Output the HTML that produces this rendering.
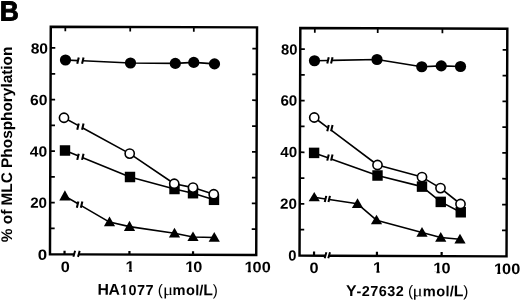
<!DOCTYPE html>
<html><head><meta charset="utf-8"><title>B</title>
<style>html,body{margin:0;padding:0;background:#fff}body{width:520px;height:301px;overflow:hidden}svg{display:block;filter:blur(0.3px)}text{font-family:"Liberation Sans",sans-serif;font-weight:bold;fill:#000;font-kerning:none}.mu{font-family:"Liberation Serif",serif;font-weight:normal}.p{font-weight:normal}</style>
</head><body>
<svg width="520" height="301" viewBox="0 0 520 301">
<rect width="520" height="301" fill="#fff"/>
<g transform="rotate(0.2 260 150)">
<path d="M73.6 255H50.35V27.4H256.6V255H80.2" fill="none" stroke="#000" stroke-width="2.45" stroke-linecap="square"/>
<path d="M75.45 251.5L73.75 257.5M80.05 251.5L78.35 257.5" fill="none" stroke="#000" stroke-width="1.95"/>
<path d="M50.35 229.21h4.6M256.6 229.21h-4.6M50.35 203.43h4.6M256.6 203.43h-4.6M50.35 177.64h4.6M256.6 177.64h-4.6M50.35 151.85h4.6M256.6 151.85h-4.6M50.35 126.06h4.6M256.6 126.06h-4.6M50.35 100.27h4.6M256.6 100.27h-4.6M50.35 74.49h4.6M256.6 74.49h-4.6M50.35 48.7h4.6M256.6 48.7h-4.6M64.9 27.4v4.6M129.8 27.4v4.6M193.4 27.4v4.6" fill="none" stroke="#000" stroke-width="1.75"/>
<path d="M64.9 255v-3.6M129.8 255v-3.6M193.4 255v-3.6" fill="none" stroke="#000" stroke-width="2.2"/>
<path d="M324.9 255.5H299.9V27.9H506.9V255.5H330.5" fill="none" stroke="#000" stroke-width="2.45" stroke-linecap="square"/>
<path d="M326.75 252L325.05 258M330.35 252L328.65 258" fill="none" stroke="#000" stroke-width="1.95"/>
<path d="M299.9 229.46h4.6M506.9 229.46h-4.6M299.9 203.68h4.6M506.9 203.68h-4.6M299.9 177.89h4.6M506.9 177.89h-4.6M299.9 152.1h4.6M506.9 152.1h-4.6M299.9 126.31h4.6M506.9 126.31h-4.6M299.9 100.52h4.6M506.9 100.52h-4.6M299.9 74.74h4.6M506.9 74.74h-4.6M299.9 48.95h4.6M506.9 48.95h-4.6M314.4 27.9v4.6M377.3 27.9v4.6M442 27.9v4.6" fill="none" stroke="#000" stroke-width="1.75"/>
<path d="M314.4 255.5v-4.2M377.3 255.5v-4.2M442 255.5v-4.2" fill="none" stroke="#000" stroke-width="2.2"/>
<text x="-0.82" y="21.46" font-size="27.6" textLength="19.06" lengthAdjust="spacingAndGlyphs" stroke="#000" stroke-width="0.9">B</text>
<text transform="translate(12.32,243.07) rotate(-90.17)" font-size="15.38">% of MLC Phosphorylation</text>
<text x="30.37" y="54.2" font-size="14.7" textLength="17.33" lengthAdjust="spacingAndGlyphs">80</text>
<text x="29.77" y="105.7" font-size="14.7" textLength="17.42" lengthAdjust="spacingAndGlyphs">60</text>
<text x="29.89" y="157.2" font-size="14.7" textLength="17.38" lengthAdjust="spacingAndGlyphs">40</text>
<text x="30.38" y="208.5" font-size="14.7" textLength="16.85" lengthAdjust="spacingAndGlyphs">20</text>
<text x="38.12" y="260.48" font-size="14.7" textLength="9.36" lengthAdjust="spacingAndGlyphs">0</text>
<text x="280.7" y="54.33" font-size="14.7" textLength="16.37" lengthAdjust="spacingAndGlyphs">80</text>
<text x="280.29" y="105.43" font-size="14.7" textLength="16.88" lengthAdjust="spacingAndGlyphs">60</text>
<text x="280.3" y="157.03" font-size="14.7" textLength="16.85" lengthAdjust="spacingAndGlyphs">40</text>
<text x="280.18" y="208.73" font-size="14.7" textLength="16.85" lengthAdjust="spacingAndGlyphs">20</text>
<text x="288.7" y="260.3" font-size="14.7" textLength="8.19" lengthAdjust="spacingAndGlyphs">0</text>
<text transform="translate(61.17,272.59) scale(1.07,1)" x="0" y="0" font-size="15.2">0</text>
<clipPath id="k1"><path d="M-600 -600H900V-2H-600ZM-600 -600H0.56V600H-600ZM8.43 -600H900V600H8.43ZM3.1 -3H6.08V2H3.1Z"/></clipPath>
<text transform="translate(125.96,272.17) scale(1.07,1)" x="0" y="0" font-size="15.2" clip-path="url(#k1)">1</text>
<clipPath id="k2"><path d="M-600 -600H900V-2H-600ZM-600 -600H0.56V600H-600ZM8.43 -600H900V600H8.43ZM3.1 -3H6.08V2H3.1Z"/></clipPath>
<text transform="translate(185.66,272.16) scale(1.07,1)" x="0 7.48" y="0" font-size="15.2" clip-path="url(#k2)">10</text>
<clipPath id="k3"><path d="M-600 -600H900V-2H-600ZM-600 -600H0.56V600H-600ZM8.43 -600H900V600H8.43ZM3.1 -3H6.08V2H3.1Z"/></clipPath>
<text transform="translate(244.86,272.35) scale(1.07,1)" x="0 7.48 16.13" y="0" font-size="15.2" clip-path="url(#k3)">100</text>
<text transform="translate(309.82,272.73) scale(1.07,1)" x="0" y="0" font-size="15.2">0</text>
<clipPath id="k4"><path d="M-600 -600H900V-2H-600ZM-600 -600H0.56V600H-600ZM8.43 -600H900V600H8.43ZM3.1 -3H6.08V2H3.1Z"/></clipPath>
<text transform="translate(373.51,272.3) scale(1.07,1)" x="0" y="0" font-size="15.2" clip-path="url(#k4)">1</text>
<clipPath id="k5"><path d="M-600 -600H900V-2H-600ZM-600 -600H0.56V600H-600ZM8.43 -600H900V600H8.43ZM3.1 -3H6.08V2H3.1Z"/></clipPath>
<text transform="translate(433.66,272.69) scale(1.07,1)" x="0 7.77" y="0" font-size="15.2" clip-path="url(#k5)">10</text>
<clipPath id="k6"><path d="M-600 -600H900V-2H-600ZM-600 -600H0.56V600H-600ZM8.43 -600H900V600H8.43ZM3.1 -3H6.08V2H3.1Z"/></clipPath>
<text transform="translate(494.36,273.08) scale(1.07,1)" x="0 7.63 16.13" y="0" font-size="15.2" clip-path="url(#k6)">100</text>
<clipPath id="k7"><path d="M-600 -600H900V293.45H-600ZM-600 -600H121.06V600H-600ZM128.56 -600H900V600H128.56ZM123.47 292.45H126.34V297.37H123.47Z"/></clipPath>
<text y="295.37" font-size="15.21" clip-path="url(#k7)"><tspan x="98.13 109.12" font-size="15.8">HA</tspan><tspan x="120.55 129 137.46 145.92" font-size="14.4">1077</tspan><tspan x="154.15" font-size="15.21"> </tspan><tspan class="p" x="158.32" font-size="15.21">(</tspan><tspan class="mu" x="163.48" font-size="16.3" textLength="10.1" lengthAdjust="spacingAndGlyphs">μ</tspan><tspan x="173.02 186.46 195.65 199.87" font-size="14.6">mol/</tspan><tspan x="203.82" font-size="15.8">L</tspan><tspan class="p" x="213.36" font-size="15.21">)</tspan></text>
<text y="295.6" font-size="15.27"><tspan x="346.49" font-size="15.8">Y</tspan><tspan x="357 362.18 370.67 379.17 387.65 396.15" font-size="14.4">-27632</tspan><tspan x="404.4" font-size="15.27"> </tspan><tspan class="p" x="408.59" font-size="15.27">(</tspan><tspan class="mu" x="413.08" font-size="16.3" textLength="10.1" lengthAdjust="spacingAndGlyphs">μ</tspan><tspan x="423.37 436.85 446.07 450.31" font-size="14.6">mol/</tspan><tspan x="454.29" font-size="15.8">L</tspan><tspan class="p" x="463.84" font-size="15.27">)</tspan></text>
</g>
<path d="M65.5 60L78 60.58M82.8 60.8L130.5 63L175.3 63.4L193.75 62.4L214.5 63.9" fill="none" stroke="#000" stroke-width="1.6" stroke-linejoin="round"/>
<path d="M78.75 57.59L77.25 63.79M83.55 57.59L82.05 63.79" fill="none" stroke="#000" stroke-width="2.05"/>
<circle cx="65.5" cy="60" r="5.6"/>
<circle cx="130.5" cy="63" r="5.6"/>
<circle cx="175.3" cy="63.4" r="5.6"/>
<circle cx="193.75" cy="62.4" r="5.6"/>
<circle cx="214.5" cy="63.9" r="5.6"/>
<path d="M64.9 196.09L77.6 203.49M81.6 205.82L109.5 222.07L129.5 226.62L174.5 233.32L193 236.93L214.25 237.57" fill="none" stroke="#000" stroke-width="1.6" stroke-linejoin="round"/>
<path d="M78.35 201.56L76.85 207.76M82.35 201.56L80.85 207.76" fill="none" stroke="#000" stroke-width="2.05"/>
<path d="M64.9 190.2L70.5 200.4H59.3Z"/>
<path d="M109.5 216.5L115.1 226.15H103.9Z"/>
<path d="M129.5 220.75L135.1 230.9H123.9Z"/>
<path d="M174.5 227.75L180.1 237.4H168.9Z"/>
<path d="M193 231.5L198.6 240.9H187.4Z"/>
<path d="M214.25 232L219.85 241.65H208.65Z"/>
<path d="M65 150.5L78 155.8M82.8 157.76L130 177L174.5 189L193 193.2L214 199.8" fill="none" stroke="#000" stroke-width="1.6" stroke-linejoin="round"/>
<path d="M78.75 153.68L77.25 159.88M83.55 153.68L82.05 159.88" fill="none" stroke="#000" stroke-width="2.05"/>
<rect x="59.8" y="145.25" width="10.4" height="10.5"/>
<rect x="124.8" y="171.75" width="10.4" height="10.5"/>
<rect x="169.3" y="183.75" width="10.4" height="10.5"/>
<rect x="187.8" y="187.95" width="10.4" height="10.5"/>
<rect x="208.8" y="194.55" width="10.4" height="10.5"/>
<path d="M64 117.75L78 125.39M82.8 128.01L129.7 153.6L174.25 183.75L193 187.6L213.75 194.2" fill="none" stroke="#000" stroke-width="1.6" stroke-linejoin="round"/>
<path d="M78.75 123.6L77.25 129.8M83.55 123.6L82.05 129.8" fill="none" stroke="#000" stroke-width="2.05"/>
<circle cx="64" cy="117.75" r="4.6" fill="#fff" stroke="#000" stroke-width="1.6"/>
<circle cx="129.7" cy="153.6" r="4.6" fill="#fff" stroke="#000" stroke-width="1.6"/>
<circle cx="174.25" cy="183.75" r="4.6" fill="#fff" stroke="#000" stroke-width="1.6"/>
<circle cx="193" cy="187.6" r="4.6" fill="#fff" stroke="#000" stroke-width="1.6"/>
<circle cx="213.75" cy="194.2" r="4.6" fill="#fff" stroke="#000" stroke-width="1.6"/>
<path d="M314.5 60.75L328 60.48M331.8 60.4L377 59.5L421.75 66.75L441.25 65.9L460.5 66.5" fill="none" stroke="#000" stroke-width="1.6" stroke-linejoin="round"/>
<path d="M328.75 57.34L327.25 63.54M332.55 57.34L331.05 63.54" fill="none" stroke="#000" stroke-width="2.05"/>
<circle cx="314.5" cy="60.75" r="5.6"/>
<circle cx="377" cy="59.5" r="5.6"/>
<circle cx="421.75" cy="66.75" r="5.6"/>
<circle cx="441.25" cy="65.9" r="5.6"/>
<circle cx="460.5" cy="66.5" r="5.6"/>
<path d="M314.25 197.28L325.5 198.99M329.2 199.55L357.5 203.82L376.5 220.16L422 232.57L440.75 237.57L460 239.32" fill="none" stroke="#000" stroke-width="1.6" stroke-linejoin="round"/>
<path d="M326.25 195.87L324.75 202.07M329.95 195.87L328.45 202.07" fill="none" stroke="#000" stroke-width="2.05"/>
<path d="M314.25 192L319.85 201.15H308.65Z"/>
<path d="M357.5 198.25L363.1 207.9H351.9Z"/>
<path d="M376.5 214.7L382.1 224.15H370.9Z"/>
<path d="M422 227L427.6 236.65H416.4Z"/>
<path d="M440.75 232L446.35 241.65H435.15Z"/>
<path d="M460 233.75L465.6 243.4H454.4Z"/>
<path d="M314.1 152.9L328 157.85M331.8 159.21L377.5 175.5L422 186.6L440.75 201.9L460.75 212.25" fill="none" stroke="#000" stroke-width="1.6" stroke-linejoin="round"/>
<path d="M328.75 154.43L327.25 160.63M332.55 154.43L331.05 160.63" fill="none" stroke="#000" stroke-width="2.05"/>
<rect x="308.9" y="147.65" width="10.4" height="10.5"/>
<rect x="372.3" y="170.25" width="10.4" height="10.5"/>
<rect x="416.8" y="181.35" width="10.4" height="10.5"/>
<rect x="435.55" y="196.65" width="10.4" height="10.5"/>
<rect x="455.55" y="207" width="10.4" height="10.5"/>
<path d="M314.25 117.5L328 127.83M331.8 130.68L377.5 165L422 177.1L440.5 188.1L460.5 204" fill="none" stroke="#000" stroke-width="1.6" stroke-linejoin="round"/>
<path d="M328.75 124.95L327.25 131.15M332.55 124.95L331.05 131.15" fill="none" stroke="#000" stroke-width="2.05"/>
<circle cx="314.25" cy="117.5" r="4.6" fill="#fff" stroke="#000" stroke-width="1.6"/>
<circle cx="377.5" cy="165" r="4.6" fill="#fff" stroke="#000" stroke-width="1.6"/>
<circle cx="422" cy="177.1" r="4.6" fill="#fff" stroke="#000" stroke-width="1.6"/>
<circle cx="440.5" cy="188.1" r="4.6" fill="#fff" stroke="#000" stroke-width="1.6"/>
<circle cx="460.5" cy="204" r="4.6" fill="#fff" stroke="#000" stroke-width="1.6"/>
</svg>
</body></html>
